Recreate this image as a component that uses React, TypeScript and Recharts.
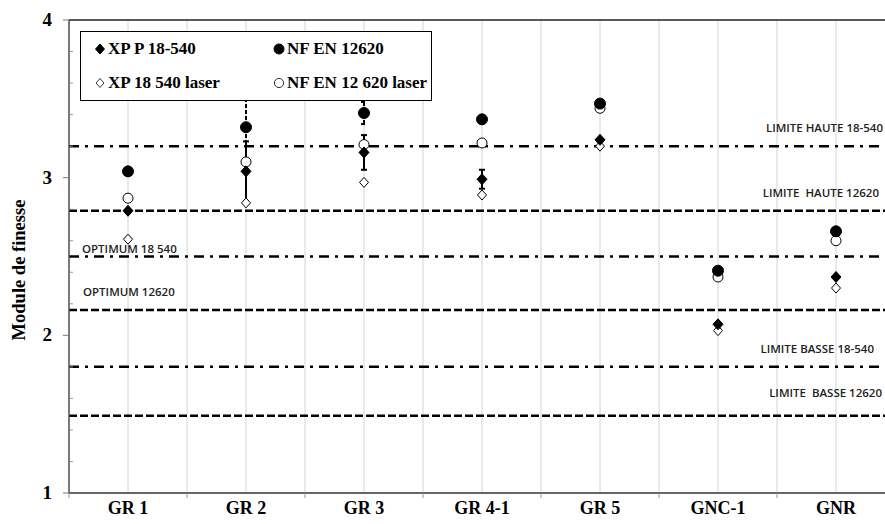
import React from "react";
import {
  ScatterChart,
  Scatter,
  XAxis,
  YAxis,
  CartesianGrid,
  ReferenceLine,
  ErrorBar,
  Legend,
} from "recharts";

/* ── data ── */
const categories = ["GR 1", "GR 2", "GR 3", "GR 4-1", "GR 5", "GNC-1", "GNR"];

const xpP = [2.79, 3.04, 3.16, 2.99, 3.24, 2.07, 2.37];
const xpPErr = [null, 0.19, 0.11, 0.06, null, null, null];
const nfEn = [3.04, 3.32, 3.41, 3.37, 3.47, 2.41, 2.66];
const nfEnErr = [null, 0.22, 0.07, null, null, null, null];
const xpLaser = [2.61, 2.84, 2.97, 2.89, 3.2, 2.03, 2.3];
const nfLaser = [2.87, 3.1, 3.21, 3.22, 3.44, 2.37, 2.6];

const yTicks = [1, 1.2, 1.4, 1.6, 1.8, 2, 2.2, 2.4, 2.6, 2.8, 3, 3.2, 3.4, 3.6, 3.8, 4];
const xTicks = [0.5, 1, 1.5, 2, 2.5, 3, 3.5, 4, 4.5, 5, 5.5, 6, 6.5, 7, 7.5];

const limitValues = [3.2, 2.79, 2.5, 2.16, 1.8, 1.49];
const limitLabels = [
  "LIMITE HAUTE 18-540",
  "LIMITE  HAUTE 12620",
  "OPTIMUM 18 540",
  "OPTIMUM 12620",
  "LIMITE BASSE 18-540",
  "LIMITE  BASSE 12620",
];

const SERIF = '"Liberation Serif", "Times New Roman", serif';
const SANS = '"Open Sans", "Noto Sans", sans-serif';

// label placement for each limit line: [anchor x, baseline offset above the line, anchor]
const limitLabelPos: [number, number, "start" | "end"][] = [
  [883, 14, "end"],
  [879, 14, "end"],
  [82, 4, "start"],
  [83, 14, "start"],
  [874, 14, "end"],
  [882, 19, "end"],
];

const toPoints = (vals: number[], errs?: (number | null)[]) =>
  vals.map((v, i) => ({ x: i + 1, y: v, err: errs ? errs[i] : null }));

const diamondPath = (cx: number, cy: number, w: number, h: number) =>
  `M${cx},${cy - h}L${cx + w},${cy}L${cx},${cy + h}L${cx - w},${cy}Z`;

const diamond = (filled: boolean) => (p: any) => (
  <path
    d={filled ? diamondPath(p.cx, p.cy, 5, 5.5) : diamondPath(p.cx, p.cy, 4.5, 5)}
    fill={filled ? "#000" : "#fff"}
    stroke="#000"
    strokeWidth={1}
  />
);

const circle = (filled: boolean) => (p: any) => (
  <circle
    cx={p.cx}
    cy={p.cy}
    r={filled ? 5.5 : 5}
    fill={filled ? "#000" : "#fff"}
    stroke="#000"
    strokeWidth={1}
  />
);

const legendItems = [
  { label: "XP P 18-540", kind: "diamond", filled: true },
  { label: "NF EN 12620", kind: "circle", filled: true },
  { label: "XP 18 540 laser", kind: "diamond", filled: false },
  { label: "NF EN 12 620 laser", kind: "circle", filled: false },
];

function LegendBox() {
  return (
    <div
      style={{
        display: "grid",
        gridTemplateColumns: "179px 170px",
        rowGap: 12,
        padding: "6px 0 0 13px",
        fontFamily: SERIF,
        fontWeight: 700,
        fontSize: 17,
        color: "#000",
      }}
    >
      {legendItems.map((it) => (
        <div
          key={it.label}
          style={{ whiteSpace: "nowrap", lineHeight: "22px", display: "flex", alignItems: "center" }}
        >
          <svg width={12} height={12} style={{ marginRight: 2 }}>
            {it.kind === "diamond" ? (
              <path
                d={it.filled ? diamondPath(6, 6, 4.5, 5) : diamondPath(6, 6, 4, 4.5)}
                fill={it.filled ? "#000" : "#fff"}
                stroke="#000"
                strokeWidth={it.filled ? 1 : 0.8}
              />
            ) : (
              <circle
                cx={6}
                cy={6}
                r={it.filled ? 5 : 4.6}
                fill={it.filled ? "#000" : "#fff"}
                stroke="#000"
                strokeWidth={it.filled ? 1 : 0.8}
              />
            )}
          </svg>
          {it.label}
        </div>
      ))}
    </div>
  );
}

const YTick = (props: any) => {
  const { x, y, payload } = props;
  const major = Number.isInteger(payload.value);
  return (
    <g>
      {major ? (
        <>
          <line x1={x - 6} x2={x} y1={y} y2={y} stroke="#777" strokeWidth={1} />
          <text
            x={x - 17}
            y={y + 6}
            textAnchor="end"
            fontFamily={SERIF}
            fontWeight={700}
            fontSize={19}
            fill="#000"
          >
            {payload.value}
          </text>
        </>
      ) : (
        <line x1={x + 1} x2={x + 4} y1={y} y2={y} stroke="#999" strokeWidth={1} />
      )}
    </g>
  );
};

const XTick = (props: any) => {
  const { x, y, payload } = props;
  const v = payload.value;
  if (Number.isInteger(v)) {
    return (
      <text
        x={x}
        y={y + 21}
        textAnchor="middle"
        fontFamily={SERIF}
        fontWeight={700}
        fontSize={18}
        fill="#000"
      >
        {categories[v - 1]}
      </text>
    );
  }
  return <line x1={x} x2={x} y1={y} y2={y + 5} stroke="#999" strokeWidth={1} />;
};

export default function App() {
  return (
    <div
      style={{
        position: "absolute",
        left: 0,
        top: 0,
        width: 885,
        height: 524,
        overflow: "hidden",
        background: "#fff",
      }}
    >
      <ScatterChart
        width={900}
        height={524}
        margin={{ top: 20, right: 5, left: 0, bottom: 0 }}
      >
        <CartesianGrid horizontal={false} stroke="#d4d4d4" strokeWidth={1} />
        <XAxis
          type="number"
          dataKey="x"
          domain={[0.5, 7.5]}
          ticks={xTicks}
          interval={0}
          height={31}
          tickSize={0}
          tickMargin={0}
          tick={XTick}
          axisLine={{ stroke: "#666", strokeWidth: 2 }}
          tickLine={false}
        />
        <YAxis
          type="number"
          dataKey="y"
          domain={[1, 4]}
          ticks={yTicks}
          interval={0}
          width={69}
          tickSize={0}
          tickMargin={0}
          tick={YTick}
          axisLine={{ stroke: "#555", strokeWidth: 1.5 }}
          tickLine={false}
          label={() => (
            <text
              x={19}
              y={270}
              transform="rotate(-90 19 270)"
              textAnchor="middle"
              fontFamily={SERIF}
              fontWeight={700}
              fontSize={18.5}
              fill="#000"
              dominantBaseline="central"
            >
              Module de finesse
            </text>
          )}
        />
        <ReferenceLine y={4} stroke="#222" strokeWidth={1.5} />
        {limitValues.map((v, i) => (
          <ReferenceLine
            key={limitLabels[i]}
            y={v}
            stroke="#000"
            strokeWidth={2.5}
            strokeDasharray={i % 2 === 0 ? "10 6 3 6" : "8 3"}
            label={(p: any) => (
              <text
                x={limitLabelPos[i][0]}
                y={p.viewBox.y - limitLabelPos[i][1]}
                textAnchor={limitLabelPos[i][2]}
                fontFamily={SANS}
                fontWeight={600}
                fontSize={11.5}
                fill="#222"
                style={{ whiteSpace: "pre" }}
              >
                {limitLabels[i]}
              </text>
            )}
          />
        ))}
        <Scatter
          name="XP 18 540 laser"
          data={toPoints(xpLaser)}
          shape={diamond(false)}
          isAnimationActive={false}
        />
        <Scatter
          name="NF EN 12 620 laser"
          data={toPoints(nfLaser)}
          shape={circle(false)}
          isAnimationActive={false}
        />
        <Scatter
          name="XP P 18-540"
          data={toPoints(xpP, xpPErr)}
          shape={diamond(true)}
          isAnimationActive={false}
        >
          <ErrorBar dataKey="err" direction="y" width={3} stroke="#000" strokeWidth={2} />
        </Scatter>
        <Scatter
          name="NF EN 12620"
          data={toPoints(nfEn, nfEnErr)}
          shape={circle(true)}
          isAnimationActive={false}
        >
          <ErrorBar
            dataKey="err"
            direction="y"
            width={3}
            stroke="#000"
            strokeWidth={2}
            strokeDasharray="4 2"
          />
        </Scatter>
        <Legend
          layout="horizontal"
          verticalAlign="middle"
          align="center"
          content={() => <LegendBox />}
          wrapperStyle={{
            left: 80,
            top: 31,
            width: 352,
            height: 70,
            background: "#fff",
            border: "1.5px solid #000",
            boxSizing: "border-box",
          }}
        />
      </ScatterChart>
    </div>
  );
}
